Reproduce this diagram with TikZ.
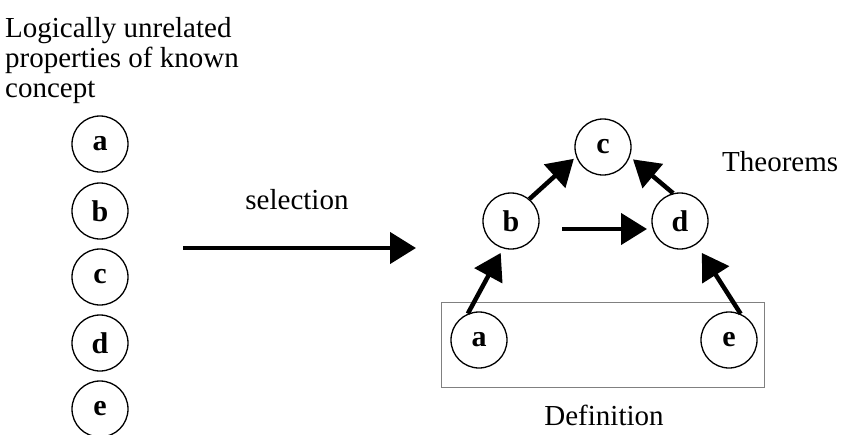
\documentclass[tikz,border=0pt]{standalone}
\usepackage{fontspec}
\setmainfont{Liberation Serif}
\usetikzlibrary{arrows.meta,calc}
\begin{document}
\begin{tikzpicture}[x=1pt,y=-1pt,
  prop/.style={circle,draw,line width=1.3pt,minimum size=56pt,inner sep=0pt,
    font=\fontsize{30}{32}\selectfont\bfseries},
  caption/.style={font=\fontsize{29}{30}\selectfont,inner sep=0pt},
  implies/.style={line width=4.5pt,-{Triangle[length=26pt,width=31pt]}}]
\useasboundingbox (0,0) rectangle (846,434);

% caption of the left column
\node[caption,anchor=north west,align=left] (cap) at (5,17)
  {Logically unrelated\\properties of known\\concept};

% unordered properties
\node[prop] (la) at (100,144) {a};
\node[prop] (lb) at (100,211) {b};
\node[prop] (lc) at (100,277) {c};
\node[prop] (ld) at (100,343) {d};
\node[prop] (le) at (100,409) {e};

% selection arrow
\coordinate (s0) at (183,248);
\coordinate (s1) at (416,248);
\draw[implies] (s0) -- (s1);
\node[caption,anchor=base] (sel) at (297,209) {selection};

% definition box
\draw[gray,line width=0.9pt] (441,302) rectangle (764,387);
\node[caption,anchor=base] (def) at (604,425) {Definition};
\node[caption,anchor=base west] (thm) at (722,171) {Theorems};

% deduced structure
\node[prop] (c) at (603,147) {c};
\node[prop] (b) at (511,221) {b};
\node[prop] (d) at (680,221) {d};
\node[prop] (a) at (479,340) {a};
\node[prop] (e) at (729,340) {e};

\draw[implies,shorten >=3pt] (b.50) -- (c.200);
\draw[implies,shorten >=4pt] (d.104) -- (c.340);
\draw[implies] ($(b.center)+(51,8)$) -- ($(d.center)+(-33,8)$);
\draw[implies,shorten >=5pt] (a.113) -- (b.254);
\draw[implies,shorten >=10pt] (e.66) -- (d.305);
\end{tikzpicture}
\end{document}
